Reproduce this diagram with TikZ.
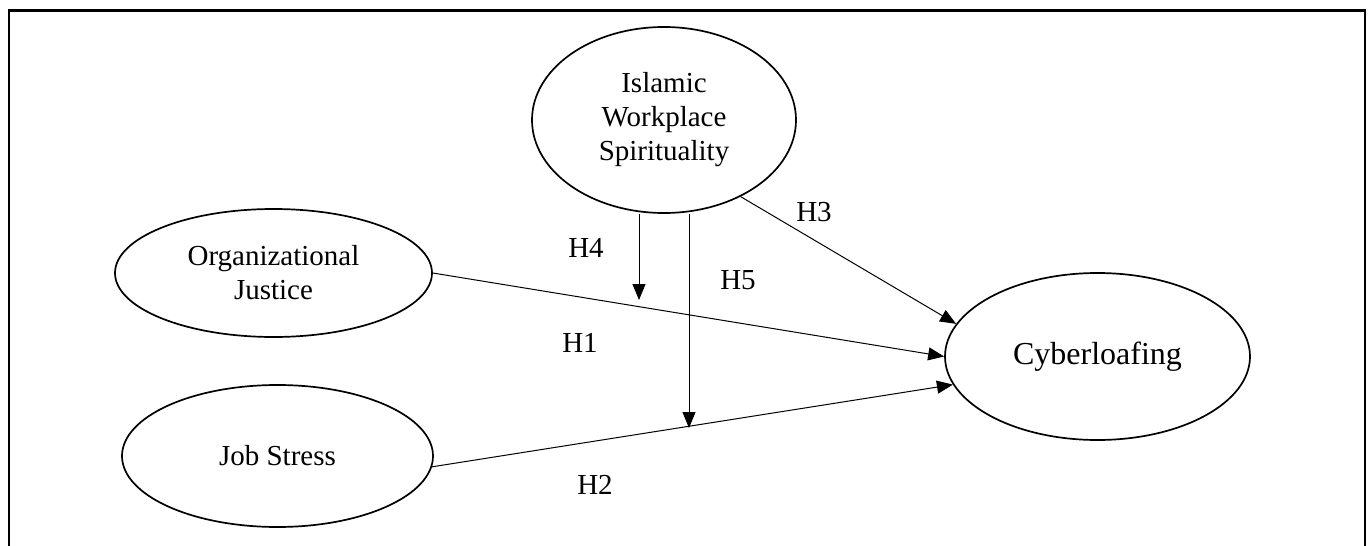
\documentclass[tikz,border=0pt]{standalone}
\usepackage{fontspec}
\setmainfont{Liberation Serif}
\usetikzlibrary{shapes.geometric,arrows.meta}

\begin{document}
\begin{tikzpicture}[x=0.5pt,y=-0.5pt,
    construct/.style={draw,ellipse,line width=0.85pt,inner sep=0pt,align=center,
      font=\fontsize{14.5}{17}\selectfont},
    link/.style={-{Triangle[length=8pt,width=6.5pt]},line width=0.5pt},
    hlabel/.style={font=\fontsize{14.5}{17}\selectfont}]
  \useasboundingbox (0,0) rectangle (1371,546);
  \draw[line width=1.2pt] (9,546) -- (9,10.5) -- (1365,10.5) -- (1365,546);

  \node[construct,minimum width=132pt,minimum height=93pt] (iws) at (664,120) {Islamic\\Workplace\\Spirituality};
  \node[construct,minimum width=158.5pt,minimum height=64pt] (oj) at (273.5,273) {Organizational\\Justice};
  \node[construct,minimum width=155.5pt,minimum height=71pt] (js) at (277.5,456) {Job Stress};
  \node[construct,minimum width=152.5pt,minimum height=83.5pt,font=\fontsize{16}{19}\selectfont] (cyber) at (1097.5,356.5) {Cyberloafing};

  \draw[link] (oj.east) -- (cyber.west);
  \draw[link] (js.-4) -- (cyber.191);
  \draw[link] (iws.-45) -- (cyber.167);

  \coordinate (h4tip) at (639,300);
  \coordinate (h5tip) at (689,428);
  \draw[link] (h4tip |- iws.south) -- (h4tip);
  \draw[link] (h5tip |- iws.south) -- (h5tip);

  \node[hlabel] (h1) at (580,343) {H1};
  \node[hlabel] (h2) at (595,485) {H2};
  \node[hlabel] (h3) at (814,212) {H3};
  \node[hlabel] (h4) at (586,248) {H4};
  \node[hlabel] (h5) at (738,280) {H5};
\end{tikzpicture}
\end{document}
